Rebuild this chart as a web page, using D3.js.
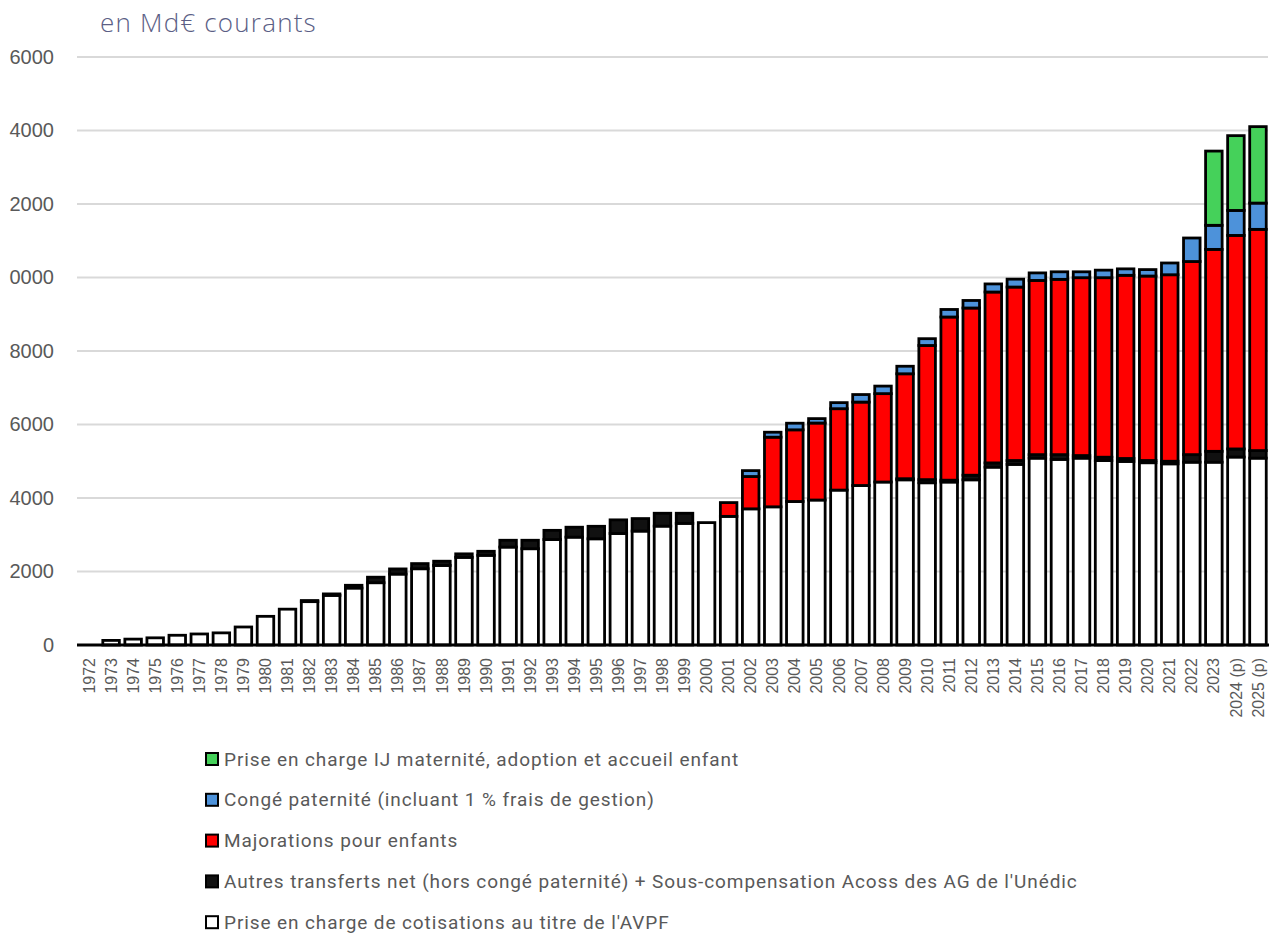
<!DOCTYPE html>
<html lang="fr">
<head>
<meta charset="utf-8">
<script src="https://cdn.jsdelivr.net/npm/d3@7"></script>
<style>
  html, body { margin: 0; padding: 0; background: #fff; }
  svg { display: block; }
  .y-axis text { font-family: 'Liberation Sans', Arial, sans-serif; font-size: 20px; fill: #595959; }
  .x-axis text { font-family: 'Liberation Sans', Arial, sans-serif; font-size: 16px; fill: #595959; }
  .legend text { font-family: Roboto, 'Liberation Sans', sans-serif; font-size: 19px; letter-spacing: 0.9px; fill: #595959; }
  .title { font-family: 'Open Sans', Lato, sans-serif; font-size: 26px; font-weight: 300; letter-spacing: 1.2px; fill: #5b5e85; }
</style>
</head>
<body>
<svg id="chart" width="1271" height="934"></svg>
<script>
// years on the x axis
const years = [
  '1972', '1973', '1974', '1975', '1976', '1977', '1978', '1979', '1980', '1981',
  '1982', '1983', '1984', '1985', '1986', '1987', '1988', '1989', '1990', '1991',
  '1992', '1993', '1994', '1995', '1996', '1997', '1998', '1999', '2000', '2001',
  '2002', '2003', '2004', '2005', '2006', '2007', '2008', '2009', '2010', '2011',
  '2012', '2013', '2014', '2015', '2016', '2017', '2018', '2019', '2020', '2021',
  '2022', '2023', '2024 (p)', '2025 (p)'
];

// Prise en charge de cotisations au titre de l'AVPF
const avpf = [
  0, 125, 160, 195, 265, 300, 330, 490, 780, 975,
  1180, 1350, 1550, 1695, 1930, 2075, 2165, 2385, 2440, 2665,
  2620, 2870, 2935, 2890, 3035, 3100, 3235, 3310, 3330, 3500,
  3705, 3760, 3905, 3945, 4215, 4340, 4435, 4495, 4415, 4435,
  4495, 4840, 4915, 5085, 5050, 5085, 5020, 4995, 4960, 4930,
  4975, 4975, 5115, 5085
];

// Autres transferts net + sous-compensation Acoss
const autres = [
  0, 0, 0, 0, 0, 0, 0, 0, 0, 0,
  30, 40, 75, 150, 140, 140, 115, 95, 110, 185,
  230, 250, 270, 340, 370, 340, 350, 275, 0, 0,
  0, 0, 0, 0, 0, 0, 0, 30, 85, 50,
  125, 115, 105, 95, 130, 70, 90, 80, 60, 70,
  205, 295, 220, 205
];

// Majorations pour enfants
const majorations = [
  0, 0, 0, 0, 0, 0, 0, 0, 0, 0,
  0, 0, 0, 0, 0, 0, 0, 0, 0, 0,
  0, 0, 0, 0, 0, 0, 0, 0, 0, 375,
  880, 1895, 1950, 2095, 2215, 2270, 2405, 2855, 3650, 4440,
  4550, 4650, 4720, 4740, 4770, 4840, 4885, 4985, 5020, 5075,
  5255, 5495, 5810, 6020
];

// Congé paternité
const congePaternite = [
  0, 0, 0, 0, 0, 0, 0, 0, 0, 0,
  0, 0, 0, 0, 0, 0, 0, 0, 0, 0,
  0, 0, 0, 0, 0, 0, 0, 0, 0, 0,
  160, 135, 180, 120, 165, 205, 205, 205, 185, 205,
  205, 220, 215, 205, 205, 160, 205, 175, 175, 320,
  640, 655, 680, 715
];

// Prise en charge IJ maternité, adoption et accueil enfant
const ijMaternite = [
  0, 0, 0, 0, 0, 0, 0, 0, 0, 0,
  0, 0, 0, 0, 0, 0, 0, 0, 0, 0,
  0, 0, 0, 0, 0, 0, 0, 0, 0, 0,
  0, 0, 0, 0, 0, 0, 0, 0, 0, 0,
  0, 0, 0, 0, 0, 0, 0, 0, 0, 0,
  0, 2020, 2035, 2080
];

const yTicks = [0, 2000, 4000, 6000, 8000, 10000, 12000, 14000, 16000];
// labels as printed (leading digit cut off in the source)
const yTickLabels = ['0', '2000', '4000', '6000', '8000', '0000', '2000', '4000', '6000'];

const seriesKeys = ['avpf', 'autres', 'majorations', 'conge', 'ij'];
const seriesColors = {
  avpf: '#ffffff',
  autres: '#111111',
  majorations: '#ff0000',
  conge: '#4d92da',
  ij: '#45d15a',
};
const legendItems = [
  { key: 'ij', label: 'Prise en charge IJ maternité, adoption et accueil enfant' },
  { key: 'conge', label: 'Congé paternité (incluant 1 % frais de gestion)' },
  { key: 'majorations', label: 'Majorations pour enfants' },
  { key: 'autres', label: "Autres transferts net (hors congé paternité) + Sous-compensation Acoss des AG de l'Unédic" },
  { key: 'avpf', label: "Prise en charge de cotisations au titre de l'AVPF" },
];

const rows = years.map((year, i) => ({
  year,
  avpf: avpf[i],
  autres: autres[i],
  majorations: majorations[i],
  conge: congePaternite[i],
  ij: ijMaternite[i],
}));

const svg = d3.select('#chart');

const plot = { left: 78, right: 1269, top: 57, bottom: 645 };

const x = d3
  .scaleBand()
  .domain(years)
  .range([plot.left, plot.right])
  .paddingInner(0.25)
  .paddingOuter(0.125);

const y = d3.scaleLinear().domain([0, 16000]).range([plot.bottom, plot.top]);

// Title
svg.append('text').attr('class', 'title').attr('x', 100).attr('y', 32).text('en Md€ courants');

// Gridlines
svg
  .append('g')
  .attr('class', 'grid')
  .selectAll('line')
  .data(yTicks.filter((d) => d > 0))
  .enter()
  .append('line')
  .attr('x1', plot.left - 1)
  .attr('x2', plot.right - 1)
  .attr('y1', (d) => y(d))
  .attr('y2', (d) => y(d))
  .attr('stroke', '#d9d9d9')
  .attr('stroke-width', 2);

// Y axis labels
const yAxis = svg
  .append('g')
  .attr('class', 'y-axis')
  .attr('transform', 'translate(54,0)')
  .call(
    d3
      .axisLeft(y)
      .tickValues(yTicks)
      .tickSize(0)
      .tickPadding(0)
      .tickFormat((d, i) => yTickLabels[i])
  );
yAxis.select('.domain').remove();

// Stacked bars
const stacked = d3.stack().keys(seriesKeys)(rows);

svg
  .append('g')
  .attr('class', 'bars')
  .selectAll('g')
  .data(stacked)
  .enter()
  .append('g')
  .attr('fill', (s) => seriesColors[s.key])
  .selectAll('rect')
  .data((s) => s.filter((d) => d[1] - d[0] > 0))
  .enter()
  .append('rect')
  .attr('x', (d) => x(d.data.year))
  .attr('width', x.bandwidth())
  .attr('y', (d) => y(d[1]))
  .attr('height', (d) => y(d[0]) - y(d[1]))
  .attr('stroke', '#000')
  .attr('stroke-width', 2.8);

// Baseline
svg
  .append('line')
  .attr('x1', plot.left - 1)
  .attr('x2', plot.right)
  .attr('y1', plot.bottom)
  .attr('y2', plot.bottom)
  .attr('stroke', '#000')
  .attr('stroke-width', 3);

// X axis labels
const xAxis = svg
  .append('g')
  .attr('class', 'x-axis')
  .attr('transform', `translate(0,${plot.bottom})`)
  .call(d3.axisBottom(x).tickSize(0).tickPadding(0));
xAxis.select('.domain').remove();
xAxis
  .selectAll('text')
  .attr('text-anchor', 'end')
  .attr('transform', 'translate(0,13) rotate(-90)')
  .attr('x', 0)
  .attr('y', 0)
  .attr('dy', '0.35em');

// Legend
const legend = svg
  .append('g')
  .attr('class', 'legend')
  .selectAll('g')
  .data(legendItems)
  .enter()
  .append('g')
  .attr('transform', (d, i) => `translate(205,${759 + i * 40.8})`);

legend
  .append('rect')
  .attr('x', 1)
  .attr('y', -6)
  .attr('width', 12)
  .attr('height', 12)
  .attr('fill', (d) => seriesColors[d.key])
  .attr('stroke', '#000')
  .attr('stroke-width', 2);

legend
  .append('text')
  .attr('x', 19)
  .attr('dy', '0.35em')
  .text((d) => d.label);
</script>
</body>
</html>
